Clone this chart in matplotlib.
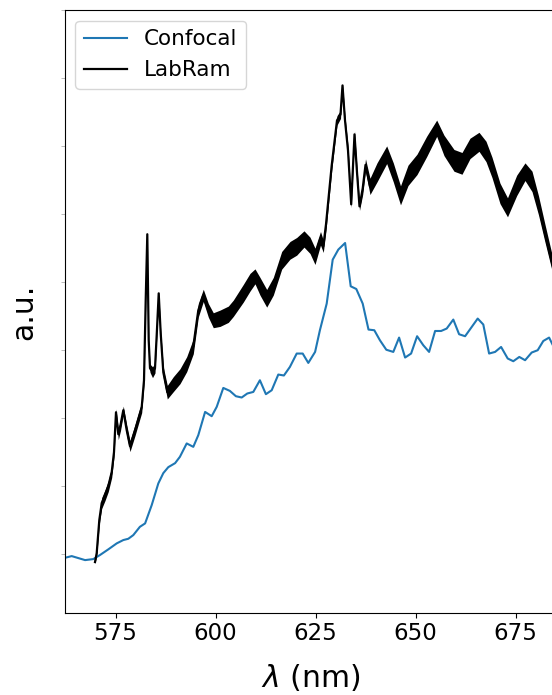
import numpy as np
import matplotlib
matplotlib.use("Agg")
import matplotlib.pyplot as plt

# Confocal spectrum (wavelength in nm, intensity in a.u.)
confocal_nm = [562.1, 564.05, 567.4, 569.45, 571.1, 573.2, 575.3, 576.95, 578.2, 579.45,
               581.1, 582.4, 584.05, 585.7, 586.95, 588.2, 589.9, 591.1, 592.8, 594.45,
               595.7, 597.4, 599.05, 600.3, 601.95, 603.6, 605.1, 606.55, 607.95, 609.45,
               611.1, 612.6, 614.05, 615.7, 617.1, 618.6, 620.3, 621.8, 623.2, 624.9,
               626.1, 627.8, 629.3, 630.7, 632.4, 633.8, 635.2, 636.8, 638.25, 639.7,
               641.1, 642.7, 644.45, 645.9, 647.4, 648.9, 650.4, 651.95, 653.4, 654.9,
               656.4, 657.8, 659.45, 660.9, 662.4, 664.05, 665.55, 666.95, 668.4, 669.9,
               671.4, 673.05, 674.45, 675.95, 677.4, 679.05, 680.55, 681.95, 683.4, 684.9]
confocal_val = [-0.066, -0.037, -0.096, -0.081, -0.022, 0.062, 0.150, 0.199, 0.218, 0.272,
                0.394, 0.444, 0.713, 1.032, 1.184, 1.272, 1.331, 1.424, 1.621, 1.571,
                1.743, 2.085, 2.022, 2.159, 2.438, 2.394, 2.316, 2.297, 2.356, 2.379,
                2.551, 2.346, 2.404, 2.635, 2.621, 2.747, 2.944, 2.944, 2.806, 2.968,
                3.287, 3.679, 4.326, 4.474, 4.571, 3.934, 3.894, 3.679, 3.297, 3.287,
                3.140, 3.000, 2.968, 3.179, 2.885, 2.944, 3.199, 3.066, 2.968, 3.276,
                3.276, 3.312, 3.444, 3.228, 3.199, 3.335, 3.459, 3.371, 2.944, 2.968,
                3.041, 2.871, 2.831, 2.894, 2.846, 2.959, 2.993, 3.129, 3.179, 3.000]

# LabRam spectrum: mean trace and half-width of its noise band
labram_nm = [569.875, 570.3, 570.95, 571.55, 572.375, 573.2, 574.05, 574.625, 575.125, 575.7,
             576.25, 576.95, 577.8, 578.625, 579.875, 581.55, 582.125, 582.55, 582.95, 583.3,
             583.625, 584.25, 584.875, 585.3, 585.8, 586.3, 586.95, 587.95, 589.45, 591.125,
             592.8, 594.45, 595.7, 596.95, 598.2, 599.45, 601.125, 603.2, 604.45, 606.95,
             608.625, 609.875, 611.125, 612.8, 614.45, 616.55, 618.625, 620.3, 622.125, 623.625,
             624.875, 626.25, 626.95, 627.625, 629.05, 630.375, 631.25, 631.75, 632.375, 633.125,
             633.925, 634.75, 635.375, 636.0, 636.8, 637.5, 638.625, 640.375, 642.8, 644.45,
             646.25, 648.125, 650.375, 652.8, 655.3, 657.125, 659.625, 661.625, 663.625, 665.875,
             667.625, 669.125, 671.125, 673.0, 675.3, 677.375, 679.125, 680.75, 682.375, 683.875,
             685.1]
labram_val = [-0.125, 0.007, 0.493, 0.743, 0.860, 0.993, 1.199, 1.493, 2.080, 1.757,
              1.890, 2.110, 1.816, 1.581, 1.816, 2.154, 2.551, 3.728, 4.700, 3.140,
              2.728, 2.669, 2.728, 3.213, 3.830, 3.243, 2.669, 2.375, 2.493, 2.610,
              2.787, 3.051, 3.581, 3.800, 3.581, 3.434, 3.463, 3.522, 3.610, 3.831,
              3.993, 4.080, 3.934, 3.757, 3.934, 4.316, 4.463, 4.522, 4.630, 4.537,
              4.375, 4.640, 4.522, 4.846, 5.713, 6.375, 6.463, 6.890, 6.375, 5.934,
              5.140, 6.170, 5.610, 5.110, 5.375, 5.720, 5.404, 5.610, 5.870, 5.610,
              5.272, 5.566, 5.728, 5.993, 6.260, 6.007, 5.787, 5.743, 5.963, 6.060,
              5.919, 5.684, 5.301, 5.096, 5.419, 5.620, 5.478, 5.125, 4.713, 4.346,
              4.050]
labram_noise = [0.02, 0.04, 0.06, 0.08, 0.08, 0.08, 0.08, 0.07, 0.05, 0.08,
                0.08, 0.06, 0.08, 0.08, 0.08, 0.08, 0.06, 0.03, 0.02, 0.03,
                0.06, 0.08, 0.07, 0.04, 0.03, 0.04, 0.08, 0.10, 0.11, 0.11,
                0.11, 0.11, 0.10, 0.09, 0.10, 0.11, 0.12, 0.12, 0.12, 0.13,
                0.13, 0.11, 0.13, 0.13, 0.13, 0.13, 0.13, 0.13, 0.12, 0.12,
                0.12, 0.10, 0.09, 0.09, 0.08, 0.07, 0.06, 0.03, 0.06, 0.07,
                0.05, 0.05, 0.07, 0.06, 0.09, 0.09, 0.12, 0.14, 0.13, 0.14,
                0.14, 0.15, 0.15, 0.15, 0.12, 0.15, 0.16, 0.16, 0.15, 0.14,
                0.15, 0.15, 0.15, 0.14, 0.15, 0.13, 0.15, 0.14, 0.13, 0.12,
                0.12]

x_ticks = [575, 600, 625, 650, 675]
y_ticks = list(range(0, 9))

fig = plt.figure(figsize=(5.52, 6.95), dpi=100)
ax = fig.add_axes([64.5 / 552, (695 - 612.7) / 695, (556 - 64.5) / 552, (612.7 - 10) / 695])

ax.plot(confocal_nm, confocal_val, color="#1f77b4", lw=1.5, label="Confocal")

lab_nm = np.array(labram_nm)
lab_val = np.array(labram_val)
lab_err = np.array(labram_noise)
ax.fill_between(lab_nm, lab_val - lab_err, lab_val + lab_err, color="black", lw=0)
ax.plot(lab_nm, lab_val, color="black", lw=1.6, label="LabRam")

ax.set_xlim(562.25, 685.125)
ax.set_ylim(-0.87, 8.0)
ax.set_xticks(x_ticks)
ax.set_yticks(y_ticks)
ax.tick_params(axis="x", labelsize=16.5, length=3.5, width=0.8)
ax.tick_params(axis="y", labelleft=False, length=3, width=0.6, color="#b0b0b0")

ax.set_xlabel(r"$\lambda$ (nm)", fontsize=21.5, labelpad=12)
ax.set_ylabel("a.u.", fontsize=21.5, labelpad=16)

ax.legend(loc="upper left", fontsize=15.5, framealpha=0.8)

fig.savefig("out.png", dpi=100)
